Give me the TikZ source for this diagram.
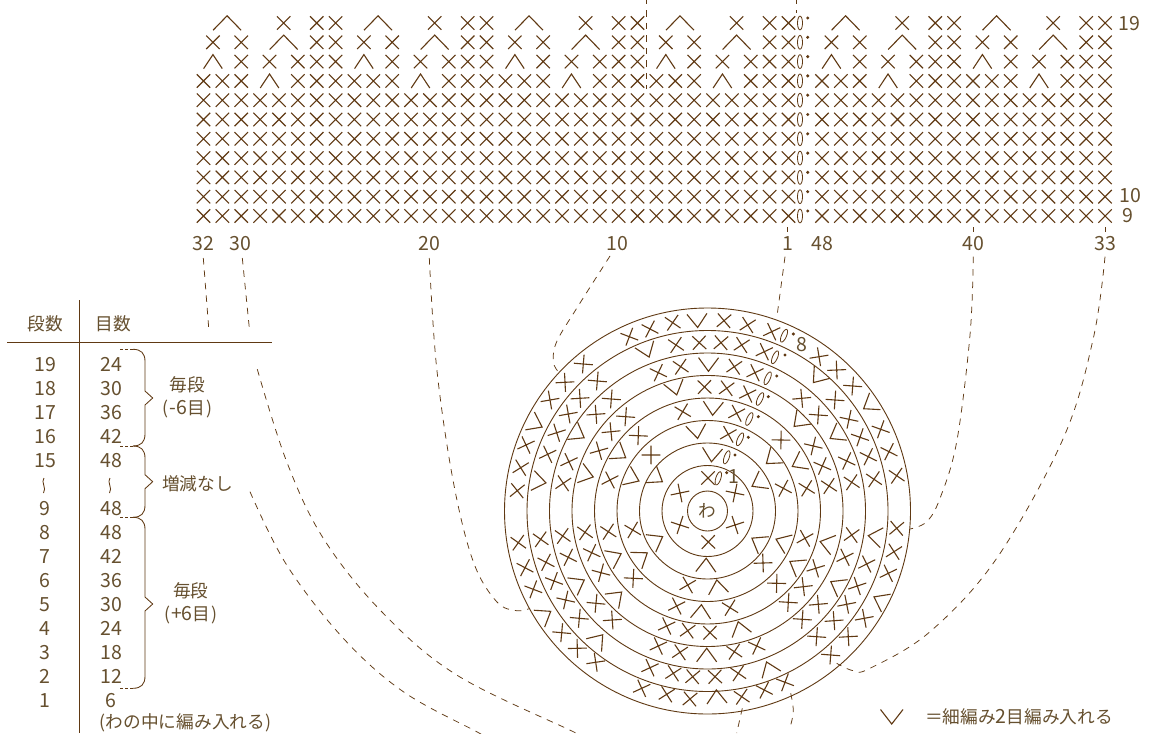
\documentclass[tikz,border=0pt]{standalone}
\usepackage{fontspec}
\setmainfont{Noto Sans CJK JP}
\definecolor{stitchbrown}{HTML}{603913}
\definecolor{textbrown}{HTML}{66502F}
\tikzset{
  stitch/.style={draw=stitchbrown,line width=1.1pt},
  ringline/.style={draw=stitchbrown,line width=0.9pt},
  chainz/.style={draw=stitchbrown,line width=0.8pt},
  dashline/.style={draw=stitchbrown,line width=0.75pt,dash pattern=on 6.5pt off 6pt},
  tablerule/.style={draw=stitchbrown,line width=1pt},
  bracepath/.style={draw=stitchbrown,line width=0.85pt},
  lab/.style={text=textbrown,inner sep=0pt,font=\fontsize{19.5}{20}\selectfont},
  jp/.style={text=textbrown,inner sep=0pt,font=\fontsize{17.7}{18}\selectfont},
}
\begin{document}
\begin{tikzpicture}[x=1pt,y=-1pt]
\fill[white] (0,0) rectangle (1150,733);
\useasboundingbox (0,0) rectangle (1150,733);
% ---------- flat chart ----------
\def\cw{18.87}
\foreach \r in {9,...,15}{
  \pgfmathsetmacro\yy{216-19.3*(\r-9)}
  \foreach \c in {0,...,31}{
    \pgfmathsetmacro\xx{203.5+\cw*\c}
    \draw[stitch,shift={(\xx,\yy)}] (-6.7,-6.7)--(6.7,6.7) (-6.7,6.7)--(6.7,-6.7);
  }
  \foreach \c in {0,...,15}{
    \pgfmathsetmacro\xx{822+\cw*\c}
    \draw[stitch,shift={(\xx,\yy)}] (-6.7,-6.7)--(6.7,6.7) (-6.7,6.7)--(6.7,-6.7);
  }
}
\foreach \base in {203.5,354.46,505.42,656.38,822,972.96}{
  \foreach \c/\yy in {0/81,1/81,2/81,5/81,6/81,7/81,
                      2/61.6,3.5/61.6,5/61.6,6/61.6,7/61.6,
                      0.5/42.3,2/42.3,6/42.3,7/42.3,
                      4.25/23,6/23,7/23}{
    \pgfmathsetmacro\xx{\base+\cw*\c}
    \draw[stitch,shift={(\xx,\yy)}] (-6.7,-6.7)--(6.7,6.7) (-6.7,6.7)--(6.7,-6.7);
  }
  \foreach \c/\yy in {3.5/81,0.5/61.6}{
    \pgfmathsetmacro\xx{\base+\cw*\c}
    \draw[stitch,shift={(\xx,\yy)}] (-9.3,7)--(0,-7)--(9.3,7);
  }
  \foreach \c/\yy in {4.25/42.3,1.25/23}{
    \pgfmathsetmacro\xx{\base+\cw*\c}
    \draw[stitch,shift={(\xx,\yy)}] (-14,7.2)--(0,-7.2)--(14,7.2);
  }
}
\foreach \r in {9,...,19}{
  \pgfmathsetmacro\yy{216-19.3*(\r-9)}
  \draw[chainz] (800,\yy) ellipse [x radius=2.5pt,y radius=6.9pt];
  \fill[stitchbrown] (807.7,\yy-5) circle [radius=1.7pt];
}
\node[lab] (r19) at (1129.5,23.5) {19};
\node[lab] (r10) at (1130,196) {10};
\node[lab] (r9) at (1128,216) {9};
\node[lab] (c32) at (203.3,244) {32};
\node[lab] (c30) at (240,244) {30};
\node[lab] (c20) at (429.3,244) {20};
\node[lab] (c10) at (617.7,244) {10};
\node[lab] (c1) at (788.3,243.5) {1};
\node[lab] (c48) at (822.7,243.5) {48};
\node[lab] (c40) at (973.3,243.5) {40};
\node[lab] (c33) at (1105.7,243.5) {33};
% ---------- round chart ----------
\foreach \rr in {20,45.5,68,90.5,113,135.5,158,180.5,203}{
  \draw[ringline] (707.5,511) circle [radius=\rr pt];
}
\node[jp] (wa) at (707,510.5) {わ};
\foreach \px/\py in {
 708/478,735/493,735/525,708.3/542,680/525,680/493,
 728.3/434.3,783.3/488.3,763/563,687.7/585,632.7/530,651/455,
 682.7/411.7,736.7/413.3,781/440,806.7/488.3,805/538.3,776.7/583.3,730/607.7,676.7/606,633.3/578.3,608.3/531.7,610/480,638.3/435.7,
 704.5/387,726.7/388.3,747.7/394,813.3/446,822.3/466,829/486,815.7/568.3,803.3/586.7,788.3/602.3,710/632.7,687.7/630.7,666.7/626,601/572.7,591.7/552.7,585/532.3,599/450.7,611/431.7,625.7/416.7,
 658.3/372.7,680.7/366.7,734.3/366.7,755/372.7,801.7/398.3,818.3/415,846.7/461,851.7/482.3,851.7/535,845/557.3,818.3/604.3,802.3/619.3,756.7/646,734.3/651.7,680/652.3,658.3/646,612.3/620,596/603.3,568.3/557.3,562.7/536,563.3/483.3,569/461.7,596/414.3,611.3/399,
 676/345,699.3/342.7,721/342.7,741.7/345,764.3/351.7,835/400,849/419.3,860/437.3,868.3/456.7,874/479.3,866.7/564,857.3/586,846.7/604.3,834/620.7,816.7/636.7,738.3/673.3,715/676.7,692.7/676.7,673.3/673.3,650/667.7,579.3/618.3,565.7/600,554/581,546/562.3,540.7/539.3,547.7/454.3,556.7/432.7,568.3/414,580/398.3,597.3/381,
 629.3/336.7,650/329,672.7/322.7,724/320.7,747.7/325,771.7/331.7,819/356.7,836.7/370,852.7/386,880.7/429.3,889/451.7,896.7/475.7,896.7/528.3,894/551.7,888.3/573.3,864.3/618.3,848.3/636.7,830.7/655,785/682.3,764.3/690,741.7/696.7,690/699,666.7/694.3,641.7/688.3,595.7/662.3,577.3/648.3,561.7/632.7,533.3/589.3,525/567.7,518.3/542.7,517.3/490.7,520.7/467.7,526/445,550/400,565/382.3,583.3/364}{
  \pgfmathsetmacro\ang{atan2(511-\py,\px-707.5)-90}
  \draw[stitch,shift={(\px,\py)},rotate=\ang] (-6.7,-6.7)--(6.7,6.7) (-6.7,6.7)--(6.7,-6.7);
}
\foreach \px/\py in {
 712/455,758/483,757.7/541.7,706/565,656.7/540,656.7/478,
 696.7/431.7,771.7/459.3,782.3/541.7,717.7/586.7,641.7/556.7,632.7/478.3,
 713/408.5,798.3/463.3,795.7/565,701/611.5,615/556.7,620/454,
 675/388.3,799/421.7,826.7/543.3,740/628.3,616.7/596.7,586.7/475,
 708.5/364.5,836/435,836.7/585,706.7/655,578.3/583.3,578.3/434.3,
 646.7/350.7,817.7/377.3,875/536.7,769/668.3,598.3/640,539.3/481.7,
 697.3/320.7,869.3/405,880/600,716.7/696.7,545/615,536/424}{
  \pgfmathsetmacro\ang{atan2(511-\py,\px-707.5)-90}
  \draw[stitch,shift={(\px,\py)},rotate=\ang] (-10,-6.8)--(0,6.8)--(10,-6.8);
}
\foreach \px/\py/\dx/\dy in {
 718.3/478.3/726.7/472.7, 726.7/457.3/735/455, 740/439.3/748.3/437.3,
 749.3/419/758.3/416.7, 760/399/768.3/396.7, 767.7/378.3/776.7/376,
 775/357.3/785/355, 784/335.7/793.3/334}{
  \pgfmathsetmacro\ang{atan2(511-\py,\px-707.5)-90}
  \draw[chainz,shift={(\px,\py)},rotate=\ang] (0,0) ellipse [x radius=2.5pt,y radius=6.9pt];
  \fill[stitchbrown] (\dx,\dy) circle [radius=1.7pt];
}
\node[lab] (rd1) at (733.5,477) {1};
\node[lab] (rd8) at (801.7,345) {8};
% ---------- table ----------
\draw[tablerule] (79,300)--(79,733);
\draw[tablerule] (7,342.4)--(271.5,342.4);
\node[jp] (h1) at (45.5,324) {段数};
\node[jp] (h2) at (113,324) {目数};
\foreach \n/\a/\b/\yy in {a/19/24/364.3,b/18/30/388.3,c/17/36/412.3,d/16/42/436.4,e/15/48/460.4,
  g/9/48/508.4,h/8/48/532.5,i/7/42/556.5,j/6/36/580.5,k/5/30/604.5,l/4/24/628.5,m/3/18/652.6,n/2/12/676.6,o/1/6/700.6}{
  \node[lab] (tl\n) at (45,\yy) {\a};
  \node[lab] (tr\n) at (111,\yy) {\b};
}
\draw[bracepath] (44,478) .. controls (40.5,482) and (47,488) .. (43.5,493);
\draw[bracepath] (110,478) .. controls (106.5,482) and (113,488) .. (109.5,493);
\foreach \t/\b/\m in {349.3/446/398,446/517.3/481.7,517.3/688.3/604}{
  \draw[bracepath,densely dashed] (120,\t)--(133,\t);
  \draw[bracepath,densely dashed] (120,\b)--(133,\b);
  \draw[bracepath,line join=round] (133,\t) .. controls (141,\t) and (145,\t+4) .. (145,\t+12)
     -- (145,\m-7) -- (152.7,\m) -- (145,\m+7) -- (145,\b-12) .. controls (145,\b-4) and (141,\b) .. (133,\b);
}
\node[jp] (t1) at (187.3,385) {毎段};
\node[jp] (t2) at (187.5,409) {(\kern1.5pt{\fontsize{19.5}{20}\selectfont -6}目\kern1.5pt)};
\node[jp] (t3) at (197.5,484) {増減なし};
\node[jp] (t4) at (190.7,590.7) {毎段};
\node[jp] (t5) at (190.7,615) {(\kern1pt{\fontsize{19.5}{20}\selectfont +6}目\kern1pt)};
\node[jp] (t6) at (185.5,723) {(わの中に編み入れる)};
% ---------- legend ----------
\draw[stitch] (880.5,709.5)--(891.7,724)--(903,709.5);
\node[jp] (leg) at (1019,716.7) {＝細編み{\fontsize{19.5}{20}\selectfont 2}目編み入れる};
% ---------- dashed connectors ----------
\coordinate (e32a) at (203.3,258);
\coordinate (e32b) at (208.7,328);
\coordinate (e30a) at (242.3,258);
\coordinate (e30b) at (249.3,328);
\draw[dashline] (e32a)--(e32b);
\draw[dashline] (e30a)--(e30b);
\draw[dashline] plot[smooth,tension=0.6] coordinates {(257.3,369.3) (286.7,461.7) (323.3,538.3) (381.7,611.7) (456.7,675) (573.3,731.7) (578,735)};
\draw[dashline] plot[smooth,tension=0.6] coordinates {(250,491.7) (286.7,565) (343.3,638.3) (403.3,691.7) (476.7,731.7) (482,735)};
\draw[dashline] plot[smooth,tension=0.6] coordinates {(429.3,258) (436.7,368.3) (453.3,481.7) (473.3,561.7) (496.7,601.7) (516.7,610.7) (530,608.3)};
\draw[dashline] plot[smooth,tension=0.6] coordinates {(610,256) (576.7,308.3) (556.7,341.7) (553.3,361.7) (558.3,371.7)};
\coordinate (e1a) at (785,256.7);
\coordinate (e1b) at (776.7,318.3);
\draw[dashline] (e1a)--(e1b);
\draw[dashline] plot[smooth,tension=0.6] coordinates {(973.3,256.7) (970,335) (956.7,441.7) (940,498.3) (926.7,521.7) (910,529)};
\draw[dashline] plot[smooth,tension=0.6] coordinates {(1105,256.7) (1093.3,338.3) (1063.3,438.3) (996.7,558.3) (930,631.7) (870,668.3) (853.3,670.7) (836.7,663.3)};
\draw[stitch,line width=0.75pt] (787.3,227)--(787.3,232) (973.3,227)--(973.3,232) (1105.7,227)--(1105.7,232);
\draw[dashline] (742.3,708.3)--(736.7,733);
\draw[dashline] plot[smooth,tension=0.6] coordinates {(790.7,693.3) (793.3,711.7) (789.3,730)};
\draw[dashline] (646.7,-2)--(646.7,89);
\draw[dashline] (796,-2)--(796,13);
\end{tikzpicture}
\end{document}
